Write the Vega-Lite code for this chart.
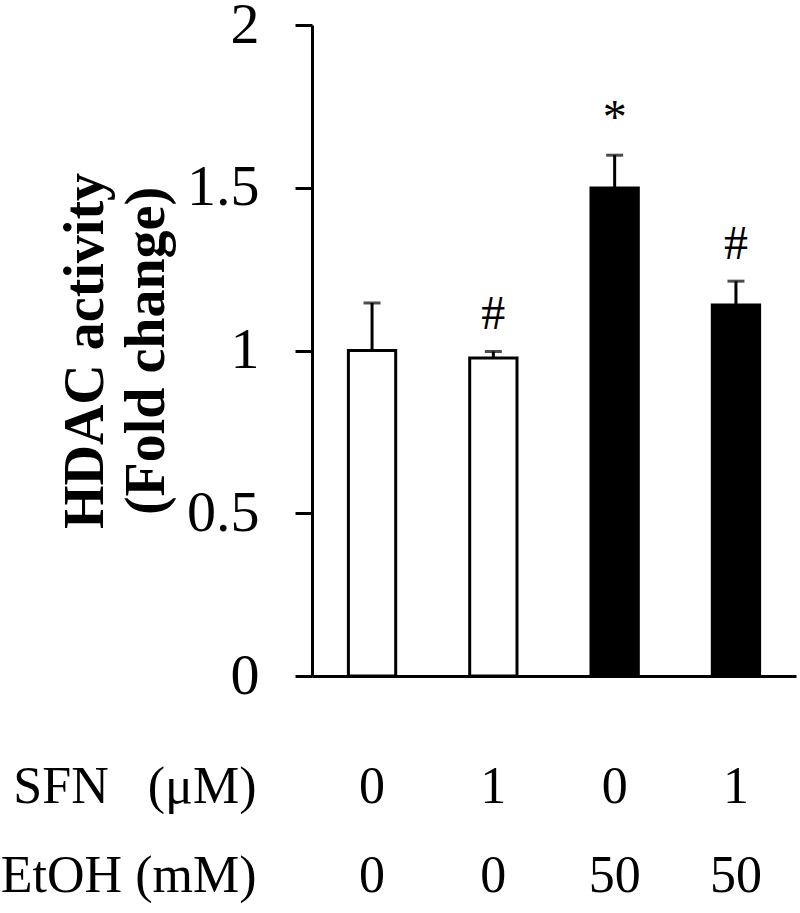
{
  "$schema": "https://vega.github.io/schema/vega-lite/v6.json",
  "width": 484,
  "height": 651,
  "autosize": {"type": "none"},
  "padding": {"left": 312, "top": 25, "right": 4, "bottom": 237},
  "background": "white",
  "config": {
    "view": {"stroke": null},
    "font": "Liberation Serif",
    "axis": {"grid": false, "domainColor": "black", "tickColor": "black", "labelColor": "black", "titleColor": "black"}
  },
  "data": {
    "values": [
      {"cond": "0|0", "etoh": "0", "mean": 1.0, "upper": 1.146, "sig": ""},
      {"cond": "1|0", "etoh": "0", "mean": 0.977, "upper": 0.997, "sig": "#"},
      {"cond": "0|50", "etoh": "50", "mean": 1.499, "upper": 1.6, "sig": "*"},
      {"cond": "1|50", "etoh": "50", "mean": 1.14, "upper": 1.213, "sig": "#"}
    ]
  },
  "encoding": {
    "x": {
      "field": "cond",
      "type": "nominal",
      "sort": null,
      "scale": {"paddingInner": 0.61, "paddingOuter": 0.3},
      "axis": {
        "title": ["SFN\u00a0\u00a0\u00a0(μM)", "EtOH (mM)"],
        "labelExpr": "split(datum.value, '|')",
        "labelAngle": 0,
        "labelFontSize": 52,
        "labelLineHeight": 89,
        "labelPadding": 85,
        "labelBaseline": "top",
        "ticks": false,
        "domainWidth": 3,
        "titleFontSize": 52,
        "titleFontWeight": "normal",
        "titleLineHeight": 89,
        "titleAlign": "right",
        "titleAnchor": "start",
        "titleX": -56,
        "titleY": 85,
        "titleBaseline": "top"
      }
    }
  },
  "layer": [
    {
      "mark": {"type": "bar", "stroke": "black", "strokeWidth": 3},
      "encoding": {
        "y": {
          "field": "mean",
          "type": "quantitative",
          "scale": {"domain": [0, 2], "nice": false},
          "axis": {
            "title": ["HDAC activity", "(Fold change)"],
            "values": [0, 0.5, 1, 1.5, 2],
            "format": "~g",
            "tickSize": 17,
            "tickWidth": 3,
            "domainWidth": 3,
            "labelPadding": 36,
            "labelFontSize": 58,
            "titleFontSize": 56,
            "titleFontWeight": "bold",
            "titleLineHeight": 61,
            "titlePadding": 11
          }
        },
        "fill": {
          "field": "etoh",
          "type": "nominal",
          "scale": {"domain": ["0", "50"], "range": ["white", "black"]},
          "legend": null
        }
      }
    },
    {
      "mark": {"type": "rule", "strokeWidth": 3, "color": "black"},
      "encoding": {
        "y": {"field": "mean", "type": "quantitative"},
        "y2": {"field": "upper"}
      }
    },
    {
      "mark": {"type": "tick", "size": 17, "thickness": 3, "color": "black"},
      "encoding": {
        "y": {"field": "upper", "type": "quantitative"}
      }
    },
    {
      "mark": {"type": "text", "baseline": "bottom", "dy": -12, "fontSize": 48, "color": "black"},
      "encoding": {
        "y": {"field": "upper", "type": "quantitative"},
        "text": {"field": "sig"}
      }
    }
  ]
}
